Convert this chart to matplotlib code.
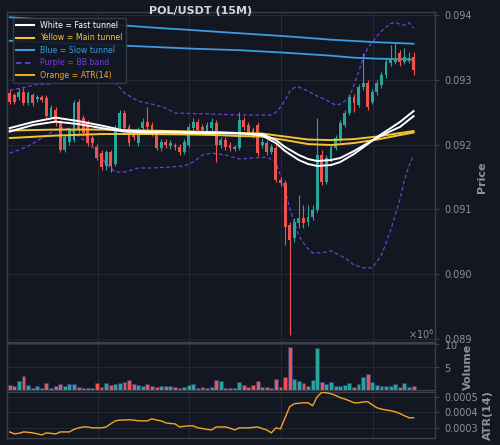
import numpy as np
import matplotlib
matplotlib.use("Agg")
import matplotlib.pyplot as plt
from matplotlib.lines import Line2D
from matplotlib.ticker import ScalarFormatter, FormatStrFormatter

# --- colours (TradingView-like dark theme) ---
BG = "#131722"
GRID = "#262a35"
SPINE = "#3b3f4a"
TXT = "#8d919a"
UP = "#26a69a"
DOWN = "#ef5350"
WHITE = "#ffffff"
YELLOW = "#f4c430"
BLUE = "#3d9de0"
PURPLE = "#6b3fd6"
ORANGE = "#f5a623"

# --- OHLC, 15m candles ---
opens = [0.09280, 0.09277, 0.09273, 0.09281, 0.09264, 0.09277, 0.09271, 0.09274, 0.09272, 0.09243,
         0.09254, 0.09235, 0.09192, 0.09204, 0.09207, 0.09266, 0.09241, 0.09233, 0.09210, 0.09196,
         0.09187, 0.09167, 0.09189, 0.09170, 0.09226, 0.09249, 0.09227, 0.09219, 0.09202, 0.09226,
         0.09235, 0.09230, 0.09218, 0.09195, 0.09204, 0.09198, 0.09200, 0.09196, 0.09189, 0.09199,
         0.09226, 0.09235, 0.09227, 0.09219, 0.09226, 0.09233, 0.09199, 0.09207, 0.09200, 0.09193,
         0.09195, 0.09238, 0.09230, 0.09223, 0.09230, 0.09199, 0.09202, 0.09189, 0.09195, 0.09145,
         0.09141, 0.09076, 0.09056, 0.09079, 0.09087, 0.09081, 0.09088, 0.09099, 0.09184, 0.09142,
         0.09176, 0.09195, 0.09207, 0.09230, 0.09249, 0.09274, 0.09261, 0.09289, 0.09295, 0.09266,
         0.09281, 0.09292, 0.09307, 0.09326, 0.09327, 0.09341, 0.09327, 0.09329, 0.09335]
highs = [0.09284, 0.09280, 0.09287, 0.09287, 0.09283, 0.09280, 0.09277, 0.09277, 0.09277, 0.09261,
         0.09258, 0.09238, 0.09215, 0.09227, 0.09269, 0.09270, 0.09246, 0.09238, 0.09215, 0.09201,
         0.09192, 0.09192, 0.09192, 0.09230, 0.09253, 0.09253, 0.09232, 0.09223, 0.09227, 0.09241,
         0.09258, 0.09235, 0.09223, 0.09209, 0.09209, 0.09207, 0.09202, 0.09201, 0.09209, 0.09232,
         0.09241, 0.09240, 0.09232, 0.09235, 0.09241, 0.09238, 0.09212, 0.09212, 0.09204, 0.09200,
         0.09250, 0.09243, 0.09235, 0.09228, 0.09235, 0.09210, 0.09207, 0.09201, 0.09199, 0.09150,
         0.09145, 0.09081, 0.09087, 0.09122, 0.09107, 0.09107, 0.09107, 0.09241, 0.09192, 0.09184,
         0.09201, 0.09215, 0.09238, 0.09253, 0.09278, 0.09278, 0.09294, 0.09341, 0.09300, 0.09286,
         0.09300, 0.09312, 0.09334, 0.09354, 0.09357, 0.09346, 0.09349, 0.09343, 0.09343]
lows = [0.09263, 0.09263, 0.09269, 0.09261, 0.09261, 0.09260, 0.09266, 0.09266, 0.09241, 0.09240,
        0.09229, 0.09189, 0.09189, 0.09199, 0.09204, 0.09218, 0.09213, 0.09198, 0.09198, 0.09176,
        0.09161, 0.09161, 0.09158, 0.09167, 0.09221, 0.09221, 0.09198, 0.09207, 0.09198, 0.09221,
        0.09223, 0.09213, 0.09192, 0.09190, 0.09195, 0.09193, 0.09192, 0.09184, 0.09186, 0.09196,
        0.09221, 0.09218, 0.09216, 0.09215, 0.09221, 0.09173, 0.09195, 0.09192, 0.09190, 0.09190,
        0.09192, 0.09223, 0.09213, 0.09210, 0.09182, 0.09195, 0.09184, 0.09186, 0.09142, 0.09136,
        0.09045, 0.08906, 0.09050, 0.09071, 0.09071, 0.09075, 0.09084, 0.09096, 0.09138, 0.09139,
        0.09173, 0.09192, 0.09204, 0.09227, 0.09246, 0.09250, 0.09258, 0.09284, 0.09253, 0.09263,
        0.09277, 0.09287, 0.09303, 0.09321, 0.09324, 0.09321, 0.09324, 0.09326, 0.09307]
closes = [0.09266, 0.09266, 0.09281, 0.09264, 0.09280, 0.09264, 0.09274, 0.09269, 0.09244, 0.09257,
          0.09233, 0.09192, 0.09212, 0.09223, 0.09264, 0.09223, 0.09218, 0.09202, 0.09203, 0.09179,
          0.09165, 0.09189, 0.09167, 0.09226, 0.09249, 0.09226, 0.09202, 0.09212, 0.09223, 0.09235,
          0.09227, 0.09218, 0.09195, 0.09204, 0.09199, 0.09202, 0.09196, 0.09189, 0.09204, 0.09227,
          0.09235, 0.09223, 0.09223, 0.09230, 0.09235, 0.09199, 0.09207, 0.09196, 0.09195, 0.09196,
          0.09238, 0.09227, 0.09218, 0.09215, 0.09187, 0.09204, 0.09189, 0.09196, 0.09145, 0.09141,
          0.09073, 0.09053, 0.09081, 0.09087, 0.09079, 0.09088, 0.09099, 0.09184, 0.09142, 0.09179,
          0.09196, 0.09210, 0.09233, 0.09249, 0.09274, 0.09264, 0.09289, 0.09295, 0.09258, 0.09281,
          0.09295, 0.09307, 0.09327, 0.09334, 0.09334, 0.09327, 0.09335, 0.09334, 0.09315]

# volume in millions
volume_m = [1.0, 0.8, 1.9, 3.1, 1.1, 0.5, 0.8, 0.5, 1.5, 0.5,
            0.8, 1.2, 0.8, 1.25, 1.25, 0.55, 0.45, 0.45, 0.45, 1.45,
            0.55, 1.45, 1.0, 1.3, 1.45, 1.7, 2.15, 1.3, 1.0, 0.8,
            1.25, 0.9, 0.55, 0.9, 0.8, 0.8, 0.55, 0.45, 0.75, 1.05,
            1.4, 0.45, 0.55, 0.45, 0.6, 2.2, 1.9, 0.5, 0.5, 0.45,
            1.7, 1.0, 0.6, 1.0, 2.0, 0.75, 0.6, 0.45, 2.4, 0.6,
            2.8, 9.2, 2.3, 1.95, 1.5, 0.8, 2.15, 9.0, 1.7, 1.25,
            1.75, 0.85, 0.9, 1.1, 1.45, 0.75, 1.3, 2.7, 3.4, 1.7,
            1.05, 0.85, 0.85, 0.85, 1.25, 0.6, 1.45, 0.6, 0.85]

atr = [0.000274, 0.000262, 0.000265, 0.000274, 0.000272, 0.000268, 0.000262, 0.000255, 0.000268, 0.000265,
       0.000261, 0.000274, 0.000274, 0.000274, 0.000290, 0.000300, 0.000306, 0.000306, 0.000300, 0.000300,
       0.000300, 0.000306, 0.000326, 0.000345, 0.000350, 0.000350, 0.000352, 0.000350, 0.000345, 0.000345,
       0.000345, 0.000358, 0.000350, 0.000345, 0.000332, 0.000328, 0.000326, 0.000306, 0.000310, 0.000313,
       0.000313, 0.000300, 0.000296, 0.000290, 0.000287, 0.000306, 0.000306, 0.000306, 0.000298, 0.000287,
       0.000300, 0.000300, 0.000300, 0.000303, 0.000306, 0.000296, 0.000287, 0.000268, 0.000300, 0.000294,
       0.000365, 0.000436, 0.000455, 0.000458, 0.000461, 0.000461, 0.000442, 0.000500, 0.000528, 0.000525,
       0.000519, 0.000508, 0.000494, 0.000485, 0.000474, 0.000461, 0.000461, 0.000466, 0.000468, 0.000448,
       0.000429, 0.000420, 0.000415, 0.000410, 0.000403, 0.000392, 0.000378, 0.000365, 0.000365]

# --- overlay lines, read at sample candles ---
blue_idx = [0, 10, 20, 30, 40, 50, 60, 70, 80, 88]
blue_hi = [0.093969, 0.093923, 0.093869, 0.093815, 0.093769, 0.093722, 0.093676, 0.093622, 0.093583, 0.093560]
blue_lo_idx = [0, 10, 20, 30, 40, 50, 60, 70, 75, 80, 88]
blue_lo = [0.093606, 0.093576, 0.093545, 0.093514, 0.093483, 0.093460, 0.093421, 0.093375, 0.093344, 0.093329, 0.093316]

yel_idx = [0, 10, 20, 30, 40, 45, 50, 55, 60, 65, 70, 75, 80, 85, 88]
yel_a = [0.092218, 0.092233, 0.092233, 0.092218, 0.092202, 0.092194, 0.092179, 0.092171,
         0.092125, 0.092079, 0.092071, 0.092086, 0.092125, 0.092179, 0.092210]
yel_b = [0.092102, 0.092140, 0.092164, 0.092164, 0.092156, 0.092148, 0.092133, 0.092125,
         0.092071, 0.092009, 0.091994, 0.092025, 0.092079, 0.092148, 0.092187]

wht_idx = [0, 5, 10, 15, 20, 25, 30, 35, 40, 45, 50, 55, 58, 60, 63, 65, 67, 70, 72, 75, 78, 80, 83, 85, 88]
wht_fast = [0.092256, 0.092349, 0.092418, 0.092364, 0.092295, 0.092218, 0.092202, 0.092202, 0.092194,
            0.092187, 0.092179, 0.092140, 0.092025, 0.091901, 0.091762, 0.091701, 0.091670, 0.091685,
            0.091731, 0.091855, 0.092009, 0.092117, 0.092256, 0.092349, 0.092519]
wht_slow = [0.092202, 0.092302, 0.092356, 0.092318, 0.092256, 0.092202, 0.092187, 0.092187, 0.092179,
            0.092179, 0.092171, 0.092164, 0.092071, 0.091963, 0.091840, 0.091778, 0.091747, 0.091762,
            0.091793, 0.091901, 0.092025, 0.092102, 0.092210, 0.092272, 0.092441]

bb_up_idx = [0, 3, 6, 9, 11, 13, 16, 19, 21, 23, 25, 28, 31, 34, 36, 40, 45, 50, 55, 57, 58, 59,
             60, 61, 62, 63, 65, 67, 69, 71, 72, 73, 74, 75, 76, 77, 78, 79, 80, 81, 82, 83, 84,
             85, 86, 87, 88]
bb_up = [0.092843, 0.092881, 0.092935, 0.092935, 0.092997, 0.093090, 0.093151, 0.093151, 0.093059,
         0.092966, 0.092796, 0.092673, 0.092627, 0.092565, 0.092488, 0.092480, 0.092472, 0.092457,
         0.092457, 0.092457, 0.092503, 0.092580, 0.092688, 0.092827, 0.092881, 0.092889, 0.092827,
         0.092750, 0.092688, 0.092611, 0.092627, 0.092673, 0.092735, 0.092920, 0.093120, 0.093336,
         0.093491, 0.093583, 0.093676, 0.093753, 0.093815, 0.093869, 0.093892, 0.093861, 0.093846,
         0.093884, 0.093799]
bb_lo_idx = [0, 2, 4, 6, 8, 10, 11, 13, 15, 17, 19, 21, 23, 25, 28, 31, 35, 38, 40, 42, 44, 47,
             50, 53, 56, 58, 60, 61, 62, 63, 64, 65, 66, 68, 70, 73, 75, 77, 79, 80, 81, 82, 83,
             84, 85, 86, 87, 88]
bb_lo = [0.091870, 0.091917, 0.091978, 0.092056, 0.092148, 0.092225, 0.092272, 0.092241, 0.092133,
         0.092025, 0.091901, 0.091701, 0.091577, 0.091577, 0.091639, 0.091639, 0.091654, 0.091670,
         0.091731, 0.091840, 0.091870, 0.091840, 0.091778, 0.091793, 0.091809, 0.091731, 0.091299,
         0.091022, 0.090806, 0.090590, 0.090481, 0.090389, 0.090327, 0.090327, 0.090358, 0.090250,
         0.090142, 0.090096, 0.090096, 0.090188, 0.090296, 0.090481, 0.090682, 0.090914, 0.091145,
         0.091454, 0.091670, 0.091840]

price_ticks = [0.089, 0.090, 0.091, 0.092, 0.093, 0.094]
atr_ticks = [0.0003, 0.0004, 0.0005]
vol_ticks = [5e6, 10e6]
vgrid = [19.15, 39.15, 59.15, 79.15]

o = np.array(opens)
h = np.array(highs)
l = np.array(lows)
c = np.array(closes)
x = np.arange(len(o))
up = c >= o
cols = np.where(up, UP, DOWN)
vol = np.array(volume_m) * 1e6

plt.rcParams.update({
    "font.family": "DejaVu Sans",
    "font.size": 7,
    "axes.facecolor": BG,
    "figure.facecolor": BG,
    "axes.edgecolor": SPINE,
    "axes.linewidth": 1.0,
    "xtick.color": TXT,
    "ytick.color": TXT,
    "axes.labelcolor": TXT,
})

fig = plt.figure(figsize=(5.0, 4.45), dpi=100)
ax = fig.add_axes([0.014, 0.23146, 0.856, 0.74157])
axv = fig.add_axes([0.014, 0.12360, 0.856, 0.10562], sharex=ax)
axa = fig.add_axes([0.014, 0.01640, 0.856, 0.10337], sharex=ax)

# overlays
ax.plot(blue_idx, blue_hi, color=BLUE, lw=1.3, zorder=2)
ax.plot(blue_lo_idx, blue_lo, color=BLUE, lw=1.3, zorder=2)
ax.plot(bb_up_idx, bb_up, color=PURPLE, lw=0.9, ls=(0, (3, 2)), zorder=2)
ax.plot(bb_lo_idx, bb_lo, color=PURPLE, lw=0.9, ls=(0, (3, 2)), zorder=2)

# candles
ax.vlines(x, l, h, colors=cols, lw=0.8, zorder=3)
body = np.maximum(np.abs(c - o), 0.000012)
ax.bar(x, body, bottom=np.minimum(o, c), width=0.62, color=cols, lw=0, zorder=4)

ax.plot(yel_idx, yel_a, color=YELLOW, lw=1.4, zorder=5)
ax.plot(yel_idx, yel_b, color=YELLOW, lw=1.4, zorder=5)
ax.plot(wht_idx, wht_fast, color=WHITE, lw=1.4, zorder=6)
ax.plot(wht_idx, wht_slow, color=WHITE, lw=1.4, zorder=6)

ax.set_xlim(-0.59, 92.66)
ax.set_ylim(0.08895, 0.09405)
ax.set_yticks(price_ticks)
ax.yaxis.set_major_formatter(FormatStrFormatter("%.3f"))
ax.set_ylabel("Price", fontsize=8, fontweight="bold")

# volume
axv.bar(x, vol, width=0.85, color=cols, edgecolor="#2f4170", lw=0.6, zorder=3)
axv.set_ylim(0, 10.15e6)
axv.set_yticks(vol_ticks)
fmt = ScalarFormatter(useMathText=True)
fmt.set_powerlimits((6, 6))
axv.yaxis.set_major_formatter(fmt)
axv.set_ylabel("Volume", fontsize=8, fontweight="bold")

# ATR
axa.plot(x, atr, color=ORANGE, lw=1.0, zorder=3)
axa.set_ylim(0.000237, 0.000532)
axa.set_yticks(atr_ticks)
axa.yaxis.set_major_formatter(FormatStrFormatter("%.4f"))
axa.set_ylabel("ATR(14)", fontsize=8, fontweight="bold")

for a in (ax, axv, axa):
    a.yaxis.tick_right()
    a.yaxis.set_label_position("right")
    a.set_xticks(vgrid)
    a.tick_params(axis="x", length=0, labelbottom=False)
    a.tick_params(axis="y", length=3, labelsize=7, color=SPINE)
    a.grid(True, color=GRID, lw=0.7)
    a.set_axisbelow(True)
    for s in a.spines.values():
        s.set_color(SPINE)
axv.yaxis.get_offset_text().set_color(TXT)
axv.yaxis.get_offset_text().set_fontsize(7)

fig.text(0.402, 1 - 11.5 / 445, "POL/USDT (15M)", ha="center", va="center",
         fontsize=8, fontweight="bold", color="#d1d4dc")

handles = [
    Line2D([], [], color=WHITE, lw=1.5),
    Line2D([], [], color=YELLOW, lw=1.5),
    Line2D([], [], color=BLUE, lw=1.5),
    Line2D([], [], color=PURPLE, lw=1.3, ls=(0, (3, 2))),
    Line2D([], [], color=ORANGE, lw=1.5),
]
labels = ["White = Fast tunnel", "Yellow = Main tunnel", "Blue = Slow tunnel",
          "Purple = BB band", "Orange = ATR(14)"]
leg = ax.legend(handles, labels, loc="upper left", fontsize=5.7, frameon=True,
                facecolor=BG, edgecolor=SPINE, framealpha=0.9, labelspacing=0.45,
                borderpad=0.4, handlelength=2.2, bbox_to_anchor=(0.005, 0.995))
for t, col in zip(leg.get_texts(), [WHITE, YELLOW, BLUE, PURPLE, ORANGE]):
    t.set_color(col)
leg.set_zorder(10)

fig.savefig("out.png", dpi=100, facecolor=BG)
